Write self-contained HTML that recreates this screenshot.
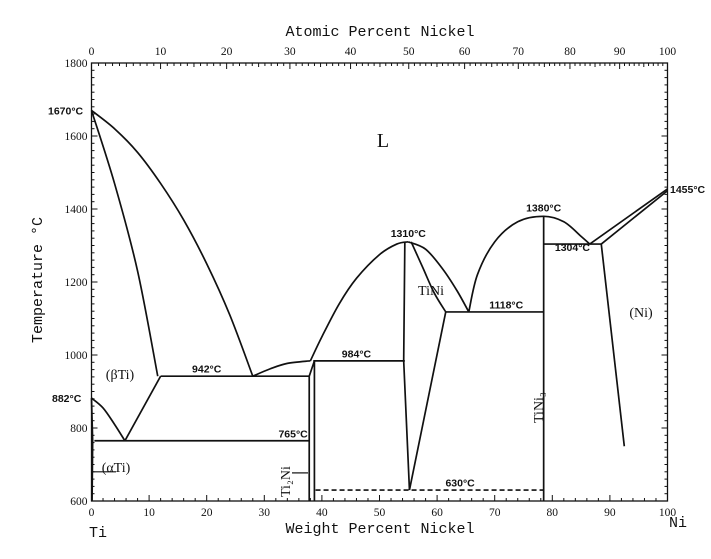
<!DOCTYPE html>
<html><head><meta charset="utf-8"><style>
body{margin:0;background:#fff;}
svg text{font-family:"Liberation Serif",serif;fill:#111;}
.b{font-family:"Liberation Sans",sans-serif;font-weight:bold;font-size:10.5px;}
.m{font-family:"Liberation Mono",monospace;}
</style></head><body>
<svg id="chart" width="711" height="554" viewBox="0 0 711 554"></svg>
<script>
const yTicks=[600,800,1000,1200,1400,1600,1800];
const wtTicks=[0,10,20,30,40,50,60,70,80,90,100];
const atTicks=[0,10,20,30,40,50,60,70,80,90,100];
const tiLiquidus=[[0,1670],[4,1620],[8,1555],[12,1470],[16,1370],[20,1250],[24,1110],[28,942]];
const tiSolidus=[[0,1670],[4,1470],[8,1230],[11.5,942]];
const betaTransus=[[0,882],[2,855],[4,810],[5.8,765]];
const betaSolvus=[[5.8,765],[12,942]];
const ti2niLiquidus=[[28,942],[31,962],[34,977],[38,984]];
const tiniLiqLeft=[[38,984],[40,1050],[43,1140],[46,1210],[50,1275],[53,1304],[55,1310]];
const tiniLiqRight=[[55,1310],[58,1290],[61,1235],[63.5,1175],[65.5,1118]];
const tiniSolRight=[[55.5,1310],[57.5,1240],[59.5,1170],[61.5,1118]];
const tiniLeft=[[54.4,1310],[54.2,984],[55.2,630]];
const tiniRight=[[55.2,630],[61.5,1118]];
const tini3Liq=[[65.5,1118],[67,1220],[70,1310],[74,1365],[78.5,1380],[82,1365],[85,1325],[86.5,1304]];
const niLiquidus=[[86.5,1304],[100,1455]];
const niSolidus=[[88.5,1304],[100,1450]];
const niSolvus=[[88.5,1304],[92.5,750]];
const isotherms=[[0.5,37.8,765],[12,37.8,942],[38.5,54.4,984],[61.5,78.5,1118],[78.5,88.5,1304]];
const verticals=[[37.8,600,942],[38.7,600,984],[78.5,600,1380]];
const tempLabels=[["942°C",20,946],["765°C",35,768],["984°C",46,988],["1310°C",55,1318],["1380°C",78.5,1388],["1118°C",72,1122],["1304°C",83.5,1280],["630°C",64,634]];

const X0=91.5,X1=667.5,Y0=501,Y1=63;
const x=w=>X0+(X1-X0)*w/100;
const y=t=>Y0-(Y0-Y1)*(t-600)/1200;
const at2wt=a=>a*58.69/(a*58.69+(100-a)*47.87)*100;
const svg=document.getElementById('chart');const NS='http://www.w3.org/2000/svg';
function el(tag,attrs,txt){const e=document.createElementNS(NS,tag);for(const k in attrs)e.setAttribute(k,attrs[k]);if(txt!==undefined)e.textContent=txt;svg.appendChild(e);return e;}

let f=el('rect',{x:X0,y:Y1,width:X1-X0,height:Y0-Y1,fill:'none',stroke:'#111','stroke-width':1.3});


for(let t=600;t<=1800;t+=20){const l=t%200===0?6:3;
 let a=el('line',{x1:X0,x2:X0+l,y1:y(t),y2:y(t),stroke:'#111'});
 let b=el('line',{x1:X1,x2:X1-l,y1:y(t),y2:y(t),stroke:'#111'});}
for(let w=0;w<=100;w+=2){const l=w%10===0?6:3;
 let a=el('line',{x1:x(w),x2:x(w),y1:Y0,y2:Y0-l,stroke:'#111'});}
for(let a=0;a<=100;a+=1){const l=a%10===0?6:(a%5===0?4:3);
 let t=el('line',{x1:x(at2wt(a)),x2:x(at2wt(a)),y1:Y1,y2:Y1+l,stroke:'#111'});}
yTicks.forEach(t=>{let e=el('text',{x:X0-4,y:y(t)+4,'text-anchor':'end','font-size':11.5},t);});
wtTicks.forEach(w=>{let e=el('text',{x:x(w),y:Y0+15,'text-anchor':'middle','font-size':11.5},w);});
atTicks.forEach(a=>{let e=el('text',{x:x(at2wt(a)),y:Y1-8,'text-anchor':'middle','font-size':11.5},a);});

function smooth(pts){const P=pts.map(q=>[x(q[0]),y(q[1])]);let d='M'+P[0][0]+','+P[0][1];
 for(let i=0;i<P.length-1;i++){const p0=P[i-1]||P[i],p1=P[i],p2=P[i+1],p3=P[i+2]||p2;
  const c1=[p1[0]+(p2[0]-p0[0])/6,p1[1]+(p2[1]-p0[1])/6],c2=[p2[0]-(p3[0]-p1[0])/6,p2[1]-(p3[1]-p1[1])/6];
  d+=' C'+c1+' '+c2+' '+p2;}return d;}
function poly(pts,name,dash){let p=el('path',{d:pts.length>2?smooth(pts):'M'+x(pts[0][0])+','+y(pts[0][1])+' L'+x(pts[1][0])+','+y(pts[1][1]),fill:'none',stroke:'#111','stroke-width':1.7,'stroke-linejoin':'round'});if(dash)p.setAttribute('stroke-dasharray',dash);
 }
function straight(pts,name){let p=el('polyline',{points:pts.map(q=>x(q[0])+','+y(q[1])).join(' '),fill:'none',stroke:'#111','stroke-width':1.7});
 }
poly(tiLiquidus,'ti-liquidus');poly(tiSolidus,'ti-solidus');poly(betaTransus,'beta-transus');poly(betaSolvus,'beta-solvus');
poly(ti2niLiquidus,'ti2ni-liquidus');poly(tiniLiqLeft,'tini-liquidus-left');poly(tiniLiqRight,'tini-liquidus-right');
poly(tiniSolRight,'tini-solidus-right');straight(tiniLeft,'tini-left-boundary');poly(tiniRight,'tini-right-boundary');
poly(tini3Liq,'tini3-liquidus');poly(niLiquidus,'ni-liquidus');poly(niSolidus,'ni-solidus');poly(niSolvus,'ni-solvus');
poly([[37.8,942],[38.7,984]],'ti2ni-peritectic');
straight([[0.1,600],[0.2,765],[0,882]],'alpha-ti-boundary');
isotherms.forEach(i=>poly([[i[0],i[2]],[i[1],i[2]]],'isotherm-'+i[2]));
verticals.forEach(v=>poly([[v[0],v[1]],[v[0],v[2]]],'compound-line'));
poly([[38.9,630],[78.5,630]],'isotherm-630-dashed','5,3');
tempLabels.forEach(l=>{let e=el('text',{x:x(l[1]),y:y(l[2])-2,'text-anchor':'middle',class:'b'},l[0]);});
[["1670°C",48,y(1670)+4,'start'],["882°C",52,y(882)+4,'start'],["1455°C",670,y(1455)+4,'start']].forEach(l=>{let e=el('text',{x:l[1],y:l[2],'text-anchor':l[3],class:'b'},l[0]);});
[["L",383,147,20],["(βTi)",120,379,14],["(αTi)",116,472,14],["TiNi",431,295,14],["(Ni)",641,317,14]].forEach(l=>{let e=el('text',{x:l[1],y:l[2],'text-anchor':'middle','font-size':l[3]},l[0]);});
let ar=el('line',{x1:93,x2:116,y1:y(680),y2:y(680),stroke:'#111','stroke-width':1.2});
let ar2=el('line',{x1:292,x2:308,y1:y(677),y2:y(677),stroke:'#111','stroke-width':1.2});
let r1=el('text',{x:0,y:0,'font-size':14,transform:'translate(290,497) rotate(-90)'},'Ti₂Ni');
let r2=el('text',{x:0,y:0,'font-size':14,transform:'translate(543,423) rotate(-90)'},'TiNi₃');
let t1=el('text',{x:380,y:533,'text-anchor':'middle','font-size':15,class:'m'},'Weight Percent Nickel');
let t2=el('text',{x:380,y:36,'text-anchor':'middle','font-size':15,class:'m'},'Atomic Percent Nickel');
let t3=el('text',{x:0,y:0,'text-anchor':'middle','font-size':15,class:'m',transform:'translate(42,280) rotate(-90)'},'Temperature °C');
let t4=el('text',{x:98,y:537,'text-anchor':'middle','font-size':15,class:'m'},'Ti');
let t5=el('text',{x:678,y:527,'text-anchor':'middle','font-size':15,class:'m'},'Ni');
</script>
</body></html>
